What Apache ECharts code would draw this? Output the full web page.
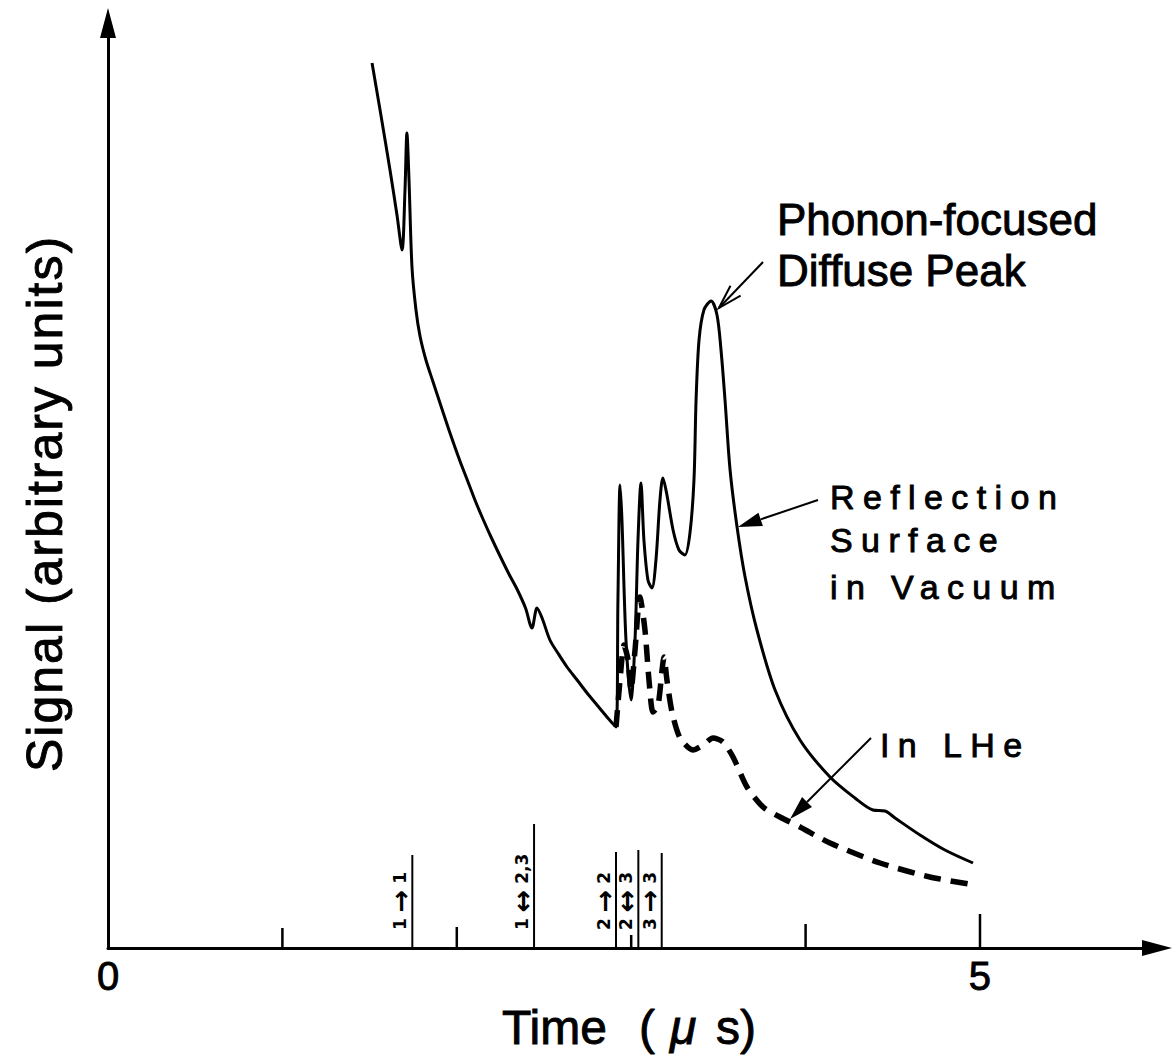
<!DOCTYPE html>
<html>
<head>
<meta charset="utf-8">
<title>Phonon signal vs time</title>
<script src="https://cdn.jsdelivr.net/npm/echarts@6/dist/echarts.min.js"></script>
<style>
  html, body { margin: 0; padding: 0; background: #fff; }
  #chart { width: 1172px; height: 1061px; }
  /* the printed labels are set with wide letter spacing */
  #chart text[style*="34px"] { letter-spacing: 8.4px; }
  #chart text[style*="50px"] { letter-spacing: 2px; }
</style>
</head>
<body>
<div id="chart"></div>
<script>
// time in microseconds, signal in arbitrary units
const vacTime = [1.514, 1.560, 1.617, 1.657, 1.686, 1.703, 1.714, 1.726, 1.743, 1.766, 1.789, 1.823, 1.864,
  1.915, 1.961, 2.018, 2.058, 2.104, 2.150, 2.199, 2.248, 2.299, 2.345, 2.394, 2.431, 2.460, 2.489, 2.534,
  2.583, 2.632, 2.690, 2.747, 2.804, 2.861, 2.913, 2.924, 2.936, 2.947,
  2.970, 2.999, 3.022, 3.039, 3.056, 3.073, 3.096, 3.119, 3.142, 3.165, 3.182, 3.205, 3.240, 3.274, 3.308,
  3.337, 3.360, 3.372, 3.389, 3.417, 3.458, 3.492, 3.515, 3.538, 3.567, 3.607, 3.653, 3.721, 3.825, 3.968,
  4.140, 4.283, 4.386, 4.455, 4.513, 4.656, 4.799, 4.960];
const vacSignal = [88.5, 83.8, 77.8, 73.3, 69.8, 75.8, 81.5, 76.8, 68.1, 63.8, 61.2, 58.8, 56.6,
  53.9, 51.5, 48.7, 46.9, 44.8, 42.9, 41.0, 39.2, 37.4, 35.9, 34.0, 32.0, 34.0, 33.0, 30.8,
  29.4, 28.1, 26.8, 25.5, 24.3, 23.1, 22.1, 34.8, 46.3, 42.8,
  30.8, 24.8, 30.8, 40.8, 46.5, 40.8, 36.8, 36.0, 38.8, 44.8, 47.0, 45.3, 41.8, 39.8, 39.3,
  41.5, 46.8, 54.8, 60.8, 63.8, 64.7, 63.3, 59.8, 54.8, 47.8, 42.1, 37.1, 31.8, 25.8, 20.8,
  17.1, 15.0, 13.8, 13.7, 13.0, 11.3, 9.8, 8.5];

const lheTime = [2.913, 2.936, 2.959, 2.982, 2.999, 3.022, 3.050, 3.079, 3.102, 3.125, 3.154, 3.177, 3.188,
  3.205, 3.234, 3.280, 3.354, 3.412, 3.469, 3.526, 3.584, 3.664, 3.756, 3.853, 3.968, 4.140, 4.427,
  4.713, 4.971];
const lheSignal = [22.1, 26.8, 30.3, 28.8, 25.8, 29.8, 35.1, 31.8, 26.8, 23.6, 24.3, 27.8, 29.1,
  26.8, 23.6, 21.0, 19.8, 20.3, 21.0, 20.6, 19.1, 16.1, 14.1, 13.1, 12.1, 10.5, 8.5,
  7.1, 6.3];

// expected arrival times of the reflected modes
const arrivalTime = [1.745, 2.443, 2.913, 3.041, 3.175];
const arrivalHeight = [9.3, 12.4, 9.6, 9.8, 9.5];
const arrivalLabel = ['1 → 1', '1 ↔ 2,3', '2 → 2', '2 ↔ 3', '3 → 3'];

// axis ticks (hand drawn, different lengths)
const tickTime = [1, 2, 3, 4, 5];
const tickHeight = [2.0, 2.1, 1.3, 2.4, 3.4];

// annotation pointers: tail -> head
const pointerFrom = [[3.756, 68.6], [4.071, 44.8], [4.375, 21.0]];
const pointerTo = [[3.503, 64.0], [3.612, 42.1], [3.911, 12.9]];

const FONT = 'Liberation Sans, Arial, sans-serif';

const chart = echarts.init(document.getElementById('chart'), null, { renderer: 'svg' });

function renderTick(params, api) {
  const a = api.coord([api.value(0), 0]);
  const b = api.coord([api.value(0), api.value(1)]);
  return {
    type: 'line',
    shape: { x1: a[0], y1: a[1], x2: b[0], y2: b[1] },
    style: { stroke: '#000', lineWidth: 2.5 }
  };
}

function renderArrival(params, api) {
  const base = api.coord([api.value(0), 0]);
  const top = api.coord([api.value(0), api.value(1)]);
  // arrows are printed bigger than the digits
  const label = arrivalLabel[params.dataIndex].replace(/([→↔])/, '{a|$1}');
  return {
    type: 'group',
    children: [{
      type: 'line',
      shape: { x1: base[0], y1: base[1], x2: top[0], y2: top[1] },
      style: { stroke: '#000', lineWidth: 2 }
    }, {
      type: 'text',
      x: base[0] - 12,
      y: base[1] - 18,
      rotation: Math.PI / 2,
      style: {
        text: label,
        fontSize: 17,
        fontWeight: 'bold',
        fontFamily: 'DejaVu Sans, sans-serif',
        fill: '#000',
        align: 'left',
        verticalAlign: 'middle',
        rich: {
          a: {
            fontSize: 27,
            fontWeight: 'bold',
            fontFamily: 'DejaVu Sans, sans-serif',
            fill: '#000'
          }
        }
      }
    }]
  };
}

function renderPointer(params, api) {
  const a = api.coord([api.value(0), api.value(1)]);
  const b = api.coord([api.value(2), api.value(3)]);
  const ang = Math.atan2(b[1] - a[1], b[0] - a[0]);
  const len = 24, half = 7;
  const bx = b[0] - len * Math.cos(ang);
  const by = b[1] - len * Math.sin(ang);
  const nx = -Math.sin(ang) * half;
  const ny = Math.cos(ang) * half;
  //the first one has an open head
  if (params.dataIndex === 0) {
    return {
      type: 'group',
      children: [{
        type: 'line',
        shape: { x1: a[0], y1: a[1], x2: b[0], y2: b[1] },
        style: { stroke: '#000', lineWidth: 2 }
      }, {
        type: 'polyline',
        shape: { points: [[bx + nx, by + ny], b, [bx - nx, by - ny]] },
        style: { stroke: '#000', lineWidth: 2, fill: null }
      }]
    };
  }
  return {
    type: 'group',
    children: [{
      type: 'line',
      shape: { x1: a[0], y1: a[1], x2: bx, y2: by },
      style: { stroke: '#000', lineWidth: 2 }
    }, {
      type: 'polygon',
      shape: { points: [[bx + nx, by + ny], b, [bx - nx, by - ny]] },
      style: { fill: '#000' }
    }]
  };
}

function textItem(text, x, y, size, extra) {
  return Object.assign({
    type: 'text',
    x: x,
    y: y,
    silent: true,
    style: {
      text: text,
      fontSize: size,
      fontFamily: FONT,
      fill: '#000',
      stroke: '#000',
      lineWidth: 0.9,
      align: 'left',
      verticalAlign: 'middle'
    }
  }, extra || {});
}

const italicMu = textItem('μ', 670, 1027, 48);
italicMu.style.fontStyle = 'italic';

chart.setOption({
  animation: false,
  backgroundColor: '#fff',
  grid: { left: 108, right: 15, top: 23, bottom: 113 },
  xAxis: {
    type: 'value',
    min: 0,
    max: 6.015,
    interval: 5,
    axisLine: {
      lineStyle: { color: '#000', width: 3 },
      symbol: ['none', 'triangle'],
      symbolSize: [16, 30]
    },
    axisTick: { show: false },
    splitLine: { show: false },
    axisLabel: {
      showMaxLabel: false,
      margin: 8,
      fontSize: 40,
      fontFamily: FONT,
      color: '#000',
      textBorderColor: '#000',
      textBorderWidth: 0.9
    }
  },
  yAxis: {
    type: 'value',
    min: 0,
    max: 92.5,
    axisLine: {
      show: true,
      lineStyle: { color: '#000', width: 3 },
      symbol: ['none', 'triangle'],
      symbolSize: [16, 30]
    },
    axisTick: { show: false },
    axisLabel: { show: false },
    splitLine: { show: false }
  },
  graphic: [
    textItem('Phonon-focused', 777, 219, 44),
    textItem('Diffuse Peak', 777, 270, 44),
    textItem('Reflection', 830, 497, 34),
    textItem('Surface', 830, 540, 34),
    textItem('in Vacuum', 830, 587, 34),
    textItem('In LHe', 880, 745, 34),
    textItem('Time', 502, 1027, 48),
    textItem('(', 639, 1027, 48),
    italicMu,
    textItem('s)', 716, 1027, 48),
    textItem('Signal (arbitrary units)', 45, 772, 50, { rotation: Math.PI / 2 })
  ],
  series: [{
    name: 'Reflection Surface in Vacuum',
    type: 'line',
    data: vacTime.map((t, i) => [t, vacSignal[i]]),
    showSymbol: false,
    smooth: 0.3,
    lineStyle: { color: '#000', width: 3 },
    z: 3
  }, {
    name: 'In LHe',
    type: 'line',
    data: lheTime.map((t, i) => [t, lheSignal[i]]),
    showSymbol: false,
    smooth: 0.25,
    lineStyle: { color: '#000', width: 5.5, type: [17, 10] },
    z: 3
  }, {
    type: 'custom',
    renderItem: renderTick,
    data: tickTime.map((t, i) => [t, tickHeight[i]]),
    clip: false,
    silent: true
  }, {
    type: 'custom',
    renderItem: renderArrival,
    data: arrivalTime.map((t, i) => [t, arrivalHeight[i]]),
    clip: false,
    silent: true
  }, {
    type: 'custom',
    renderItem: renderPointer,
    encode: { x: [0, 2], y: [1, 3] },
    data: pointerFrom.map((p, i) => [p[0], p[1], pointerTo[i][0], pointerTo[i][1]]),
    clip: false,
    silent: true
  }]
});
</script>
</body>
</html>
